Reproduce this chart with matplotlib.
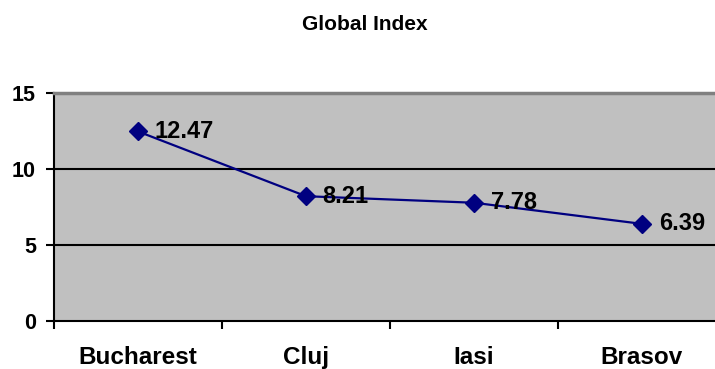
import matplotlib
matplotlib.use("Agg")
import matplotlib.pyplot as plt
from matplotlib.ticker import FixedLocator

categories = ["Bucharest", "Cluj", "Iasi", "Brasov"]
values = [12.47, 8.21, 7.78, 6.39]
yticks = [0, 5, 10, 15]

plt.rcParams["font.family"] = ["Liberation Sans", "DejaVu Sans"]

fig = plt.figure(figsize=(7.15, 3.69), dpi=100)
# plot area runs slightly past the right edge of the canvas
ax = fig.add_axes([54 / 715, 48 / 369, 672 / 715, 228 / 369])
ax.set_facecolor("#C0C0C0")

x = list(range(len(categories)))
ax.plot(x, values, color="#000080", lw=1.6, marker="D", markersize=9,
        markerfacecolor="#000080", markeredgecolor="#000080", zorder=3)

for xi, v in zip(x, values):
    ax.annotate(f"{v:.2f}", (xi, v), xytext=(12, 0), textcoords="offset points",
                va="center", ha="left", fontsize=17, fontweight="bold", zorder=4)

ax.set_xlim(-0.5, len(categories) - 0.5)
ax.set_ylim(0, 15)
ax.set_yticks(yticks)
ax.set_yticklabels([str(t) for t in yticks], fontsize=15.5, fontweight="bold")

ax.set_xticks(x)
ax.set_xticklabels(categories, fontsize=17.5, fontweight="bold")
ax.tick_params(axis="x", which="major", length=0, pad=18)
ax.xaxis.set_minor_locator(FixedLocator([i - 0.5 for i in range(len(categories) + 1)]))
ax.tick_params(axis="x", which="minor", length=6, width=1.5, direction="out")
ax.tick_params(axis="y", length=6, width=1.5, direction="out", pad=7)

for t in yticks[1:-1]:
    ax.axhline(t, color="black", lw=1.5, zorder=2)

ax.spines["left"].set_linewidth(1.5)
ax.spines["bottom"].set_linewidth(1.5)
ax.spines["top"].set_color("#808080")
ax.spines["top"].set_linewidth(2.5)
ax.spines["right"].set_visible(False)

fig.text(365 / 715, 1 - 24 / 369, "Global Index", ha="center", va="center",
         fontsize=15, fontweight="bold")

fig.savefig("out.png", dpi=100)
